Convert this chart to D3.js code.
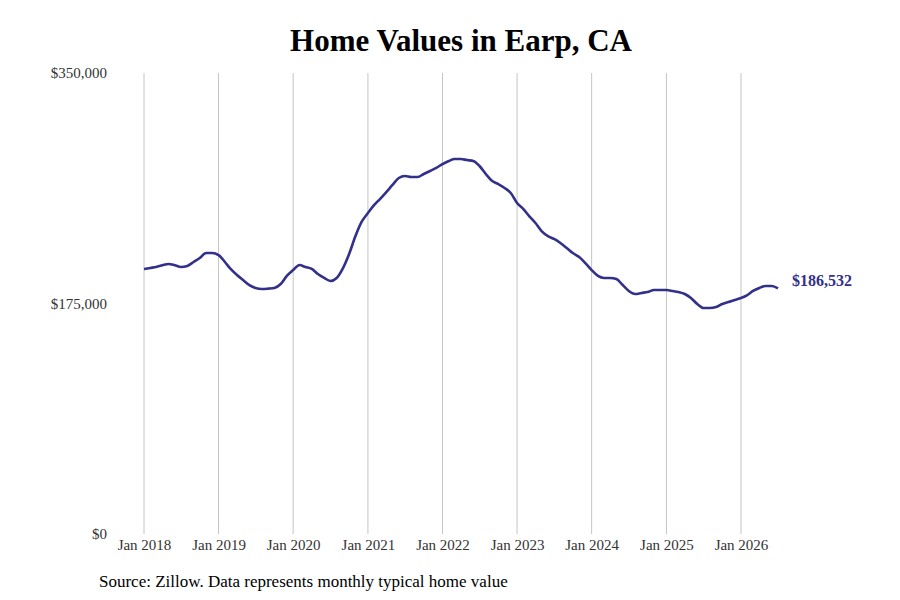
<!DOCTYPE html>
<html><head><meta charset="utf-8">
<script src="https://cdn.jsdelivr.net/npm/d3@7"></script>
<style>body{margin:0;background:#fff}</style></head>
<body><svg id="c" width="900" height="600"></svg>
<script>
const startMonth = "2018-01";
const valuesK = [201.2,202.0,202.7,204.0,205.0,204.0,202.7,203.5,206.5,209.5,213.3,213.3,211.8,206.5,201.2,196.6,192.8,189.0,186.8,186.0,186.3,186.8,189.8,195.9,
200.4,204.2,202.7,201.2,197.4,194.4,192.1,194.4,201.9,212.6,226.2,236.9,243.7,249.8,254.3,259.6,265.0,270.3,271.8,271.0,
271.0,273.3,275.6,277.9,280.9,283.2,284.7,284.7,283.9,283.2,279.4,273.3,268.0,265.7,262.7,258.9,251.3,246.7,241.4,236.1,
230.0,226.2,224.0,220.9,217.1,213.3,210.3,205.7,200.4,195.9,194.4,194.4,193.6,189.0,184.5,182.2,183.0,183.7,185.2,185.2,
185.2,184.5,183.7,182.2,179.2,174.6,171.6,171.6,172.3,174.6,176.1,177.7,179.2,181.4,184.5,186.8,188.3,188.3,186.532];
const yTicks = [0,175000,350000];
const xTickYears = [2018,2019,2020,2021,2022,2023,2024,2025,2026];
const lastLabel = "$186,532";

const svg = d3.select("#c");
const t0 = d3.timeParse("%Y-%m")(startMonth);
const data = valuesK.map((v,i)=>({d:d3.timeMonth.offset(t0,i), v:v*1000}));
const x = d3.scaleTime().domain([new Date(2018,0,1), new Date(2026,0,1)]).range([144,741]);
const y = d3.scaleLinear().domain([0,350000]).range([534,73]);
const color = "#33308a";
const serif = "Liberation Serif";

svg.append("text").attr("x",461).attr("y",51).attr("text-anchor","middle")
  .attr("font-family",serif).attr("font-weight","bold").attr("font-size",31).text("Home Values in Earp, CA");

const xt = xTickYears.map(yr=>new Date(yr,0,1));
svg.append("g").selectAll("line").data(xt).join("line")
  .attr("x1",d=>x(d)).attr("x2",d=>x(d)).attr("y1",73).attr("y2",534)
  .attr("stroke","#c4c4c4").attr("stroke-width",1);

const xa = svg.append("g").attr("transform","translate(0,534)")
  .call(d3.axisBottom(x).tickValues(xt).tickFormat(d3.timeFormat("Jan %Y")).tickSize(0).tickPadding(5));
xa.select(".domain").remove();
xa.selectAll("text").attr("font-family",serif).attr("font-size",15).attr("fill","#333");

const ya = svg.append("g").attr("transform","translate(107,0)")
  .call(d3.axisLeft(y).tickValues(yTicks).tickFormat(d=>"$"+d3.format(",")(d)).tickSize(0).tickPadding(0));
ya.select(".domain").remove();
ya.selectAll("text").attr("font-family",serif).attr("font-size",15).attr("fill","#333");

svg.append("path").datum(data).attr("fill","none").attr("stroke",color).attr("stroke-width",2.6)
  .attr("d",d3.line().x(d=>x(d.d)).y(d=>y(d.v)).curve(d3.curveMonotoneX));

const last = data[data.length-1];
svg.append("text").attr("x",x(last.d)+14).attr("y",y(last.v)-6).attr("dominant-baseline","middle")
  .attr("font-family",serif).attr("font-weight","bold").attr("font-size",16).attr("fill",color).text(lastLabel);

svg.append("text").attr("x",99).attr("y",587).attr("font-family",serif).attr("font-size",17)
  .text("Source: Zillow. Data represents monthly typical home value");
</script></body></html>
